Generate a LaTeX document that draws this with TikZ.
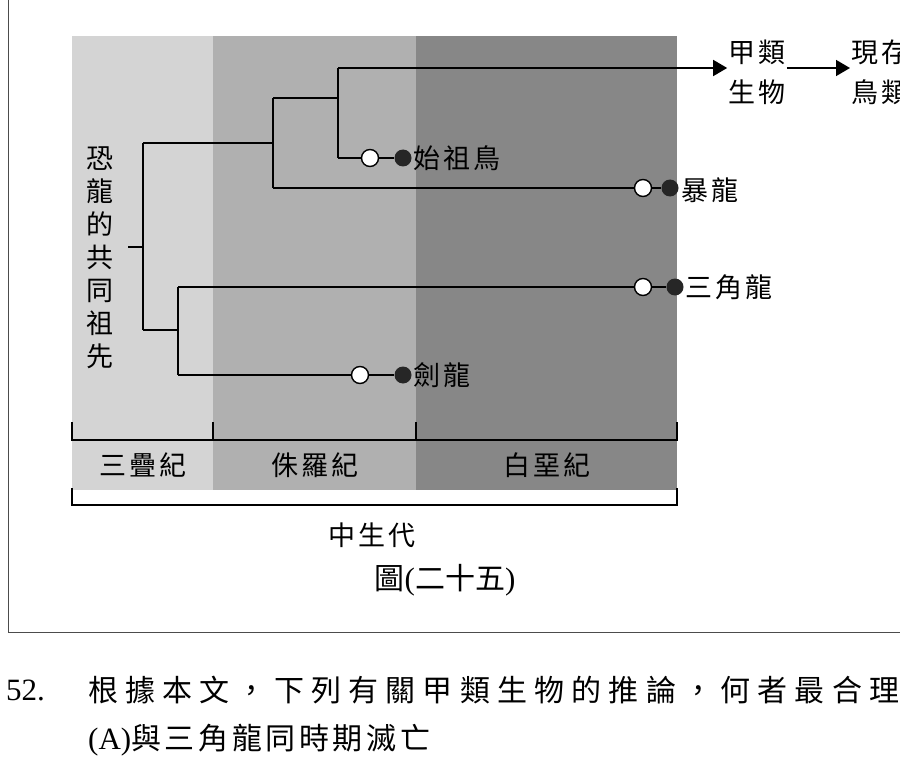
\documentclass[tikz,border=0pt]{standalone}
\usepackage{fontspec}
\setmainfont{Liberation Serif}
\newfontfamily\cjk{Noto Sans CJK TC}[LetterSpace=12]
\newfontfamily\cjkq{Noto Sans CJK TC}[LetterSpace=24]
\newfontfamily\cjkv{Noto Sans CJK TC}
\usetikzlibrary{arrows.meta}
\begin{document}
\begin{tikzpicture}[x=1pt,y=-1pt,
  br/.style={line width=1.6pt,black},
  oc/.style={circle,draw=black,line width=1.4pt,fill=white,inner sep=0pt,minimum size=17pt},
  fc/.style={circle,fill=black!85,inner sep=0pt,minimum size=17pt},
  lab/.style={font=\cjk\fontsize{27}{30}\selectfont,inner sep=1pt},
  txt/.style={font=\fontsize{31}{34}\selectfont,inner sep=0pt,anchor=west}]
\useasboundingbox (0,0) rectangle (900,773);
\clip (0,0) rectangle (900,773);
% frame
\draw[line width=1pt,black!70] (8,-5) -- (8,632) -- (905,632);
% bands
\fill[black!17] (72,36) rectangle (213,490);
\fill[black!31] (213,36) rectangle (416,490);
\fill[black!47] (416,36) rectangle (677,490);
% brackets
\draw[line width=1.6pt] (72,422) -- (72,440) -- (677,440) -- (677,422);
\draw[line width=1.6pt] (213,422) -- (213,440) (416,422) -- (416,440);
\draw[line width=1.6pt] (72,488) -- (72,505) -- (677,505) -- (677,488);
\node[lab] (tri) at (143,465) {三疊紀};
\node[lab] (jur) at (315,465) {侏羅紀};
\node[lab] (cre) at (547,465) {白堊紀};
\node[lab] (meso) at (372,535) {中生代};
\node[font=\fontsize{31}{34}\selectfont] (fig) at (445,580) {{\cjkv\fontsize{30}{34}\selectfont 圖}({\cjkv\fontsize{30}{34}\selectfont 二十五})};
% root label
\node[align=center,font=\cjkv\fontsize{27}{33}\selectfont,inner sep=1pt] (anc) at (100,258) {恐\\龍\\的\\共\\同\\祖\\先};
\coordinate (r) at (143,247);
\draw[br] (128,247) -- (r);
\draw[br] (143,143) -- (143,330);
% upper clade
\draw[br] (143,143) -- (273,143);
\draw[br] (273,98) -- (273,188);
\draw[br] (273,98) -- (338,98);
\draw[br] (338,68) -- (338,158);
\node[lab,align=center] (jia) at (757,72) {甲類\\[10pt]生物};
\node[lab,align=center,anchor=west] (xian) at (850,72) {現存\\[10pt]鳥類};
\coordinate (a1) at (jia.west |- 0,68);
\coordinate (a2) at (jia.east |- 0,68);
\coordinate (a3) at (xian.west |- 0,68);
\draw[br,-{Triangle[length=14pt,width=16pt]}] (338,68) -- (a1);
\draw[br,-{Triangle[length=14pt,width=16pt]}] (a2) -- (a3);
\node[oc] (o1) at (370,158) {}; \node[fc] (f1) at (403,158) {};
\draw[br] (338,158) -- (o1); \draw[br] (o1) -- (f1);
\node[lab,anchor=west] (s1) at (412,158) {始祖鳥};
\node[oc] (o2) at (643,188) {}; \node[fc] (f2) at (670,188) {};
\draw[br] (273,188) -- (o2); \draw[br] (o2) -- (f2);
\node[lab,anchor=west] (s2) at (680,190) {暴龍};
% lower clade
\draw[br] (143,330) -- (178,330);
\draw[br] (178,287) -- (178,375);
\node[oc] (o3) at (643,287) {}; \node[fc] (f3) at (675,287) {};
\draw[br] (178,287) -- (o3); \draw[br] (o3) -- (f3);
\node[lab,anchor=west] (s3) at (684,287) {三角龍};
\node[oc] (o4) at (360,375) {}; \node[fc] (f4) at (403,375) {};
\draw[br] (178,375) -- (o4); \draw[br] (o4) -- (f4);
\node[lab,anchor=west] (s4) at (412,375) {劍龍};
% question text
\node[txt] (q) at (6,690) {52.};
\node[txt,font=\cjkq\fontsize{30}{34}\selectfont] (qt) at (88,690) {根據本文，下列有關甲類生物的推論，何者最合理};
\node[txt] (a) at (88,740) {(A){\cjk\fontsize{30}{34}\selectfont 與三角龍同時期滅亡}};
\end{tikzpicture}
\end{document}
